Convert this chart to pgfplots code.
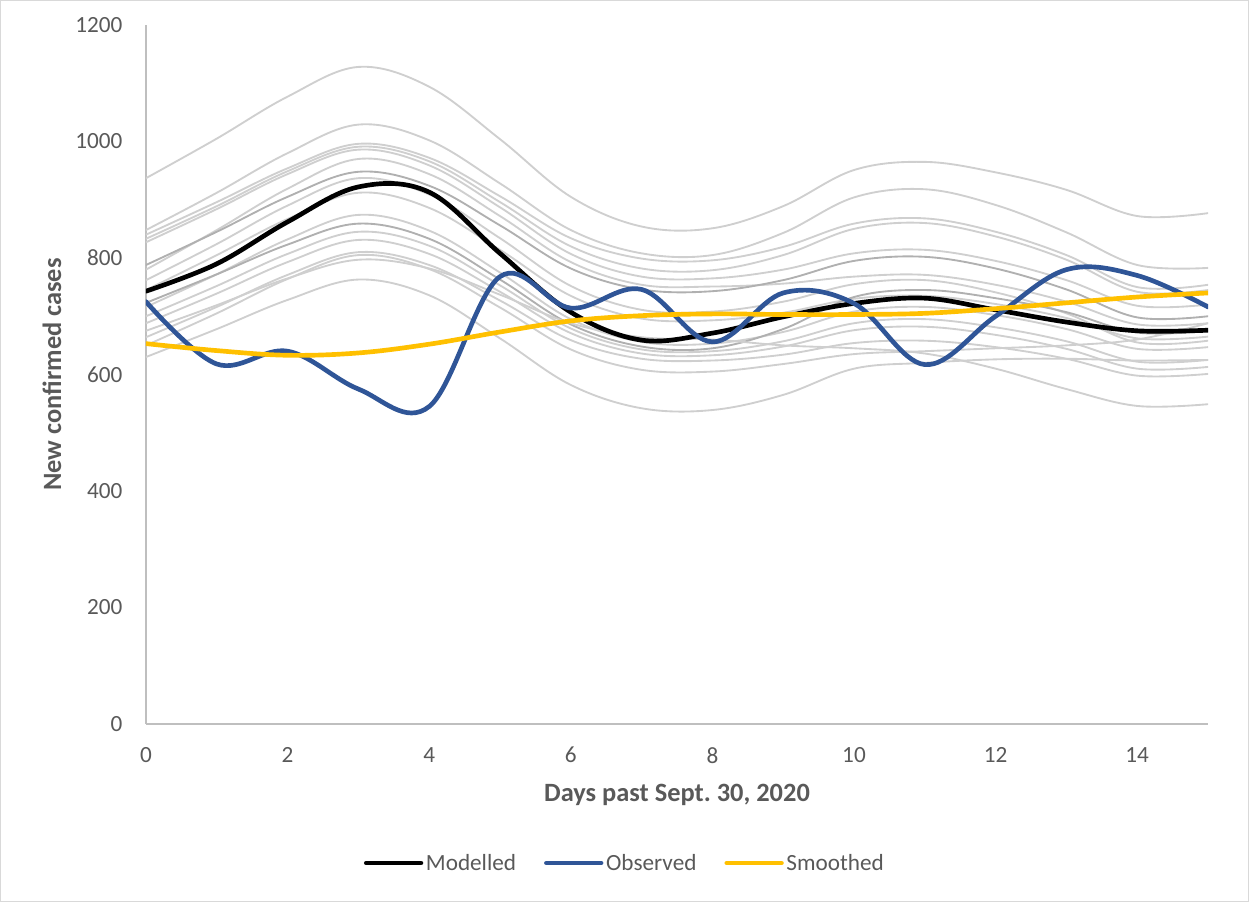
\documentclass[border=0pt]{standalone}
\usepackage{pgfplots}
\pgfplotsset{compat=1.18}
\usepackage{fontspec}
\setmainfont{Carlito}
\definecolor{txt}{HTML}{595959}
\definecolor{axgray}{HTML}{BFBFBF}
\definecolor{brd}{HTML}{D9D9D9}
\definecolor{ens}{HTML}{CFCFCF}
\definecolor{ensdark}{HTML}{B0B0B0}
\definecolor{obsblue}{HTML}{2F5597}
\definecolor{smyellow}{HTML}{FFC000}

\begin{document}
\begin{tikzpicture}
\begin{axis}[
  scale only axis, width=796.5pt, height=524.25pt,
  xmin=0, xmax=15, ymin=0, ymax=1200,
  xtick={0,2,...,14}, ytick={0,200,...,1200},
  axis x line*=bottom, axis y line*=left,
  axis line style={-, draw=axgray, line width=1pt},
  major tick length=0pt,
  tick style={draw=none},
  /pgf/number format/assume math mode=true,
  /pgf/number format/1000 sep={},
  ticklabel style={font=\fontsize{17.4}{20}\selectfont, text=txt, inner sep=0pt},
  xticklabel style={anchor=north, yshift=-17.25pt},
  yticklabel style={anchor=east, xshift=-17.5pt},
  xlabel={Days past Sept.\ 30, 2020},
  ylabel={New confirmed cases},
  label style={font=\fontsize{19.8}{23}\selectfont\bfseries, text=txt},
  xlabel style={at={(axis description cs:0.5,-0.1016)}, anchor=center},
  ylabel style={at={(axis description cs:-0.0885,0.5)}, anchor=center},
  legend columns=3,
  legend style={at={(0.4506,-0.1989)}, anchor=center, draw=none, fill=none,
    font=\fontsize{17.4}{20}\selectfont, text=txt, inner sep=0pt,
    nodes={inner sep=1pt},
    /tikz/every odd column/.append style={column sep=1pt},
    /tikz/every even column/.append style={column sep=20pt}},
  legend image code/.code={\draw[#1] (0pt,0pt) -- (41pt,0pt);},
  every axis plot/.append style={smooth, tension=0.6, line cap=round, line join=round},
]
% ensemble members
\addplot[ens, line width=1.4pt, forget plot] coordinates {(0,937) (1,1005) (2,1077) (3,1128) (4,1094) (5,1004) (6,905) (7,854) (8,851) (9,889) (10,951) (11,965) (12,947) (13,917) (14,872) (15,877)};
\addplot[ens, line width=1.4pt, forget plot] coordinates {(0,848) (1,912) (2,980) (3,1029) (4,1002) (5,928) (6,848) (7,808) (8,805) (9,843) (10,904) (11,918) (12,891) (13,844) (14,788) (15,783)};
\addplot[ens, line width=1.4pt, forget plot] coordinates {(0,840) (1,896) (2,954) (3,996) (4,972) (5,906) (6,834) (7,799) (8,796) (9,819) (10,859) (11,868) (12,845) (13,805) (14,750) (15,754)};
\addplot[ens, line width=1.4pt, forget plot] coordinates {(0,833) (1,889) (2,949) (3,991) (4,966) (5,896) (6,820) (7,782) (8,779) (9,805) (10,850) (11,860) (12,837) (13,797) (14,742) (15,745)};
\addplot[ens, line width=1.4pt, forget plot] coordinates {(0,827) (1,884) (2,944) (3,986) (4,959) (5,887) (6,807) (7,768) (8,765) (9,780) (10,808) (11,814) (12,795) (13,762) (14,718) (15,720)};
\addplot[ens, line width=1.4pt, forget plot] coordinates {(0,780) (1,848) (2,919) (3,970) (4,944) (5,872) (6,793) (7,754) (8,751) (9,756) (10,768) (11,771) (12,754) (13,725) (14,686) (15,688)};
\addplot[ensdark, line width=1.4pt, forget plot] coordinates {(0,788) (1,845) (2,905) (3,948) (4,924) (5,856) (6,782) (7,746) (8,743) (9,762) (10,795) (11,802) (12,782) (13,746) (14,698) (15,700)};
\addplot[ens, line width=1.4pt, forget plot] coordinates {(0,762) (1,824) (2,890) (3,937) (4,909) (5,834) (6,752) (7,711) (8,708) (9,725) (10,755) (11,762) (12,741) (13,705) (14,655) (15,658)};
\addplot[ens, line width=1.4pt, forget plot] coordinates {(0,745) (1,805) (2,867) (3,912) (4,886) (5,814) (6,735) (7,696) (8,693) (9,706) (10,730) (11,735) (12,721) (13,697) (14,662) (15,665)};
\addplot[ens, line width=1.4pt, forget plot] coordinates {(0,716) (1,772) (2,832) (3,874) (4,847) (5,775) (6,695) (7,656) (8,653) (9,673) (10,708) (11,716) (12,702) (13,678) (14,644) (15,647)};
\addplot[ensdark, line width=1.4pt, forget plot] coordinates {(0,723) (1,772) (2,823) (3,859) (4,833) (5,763) (6,686) (7,648) (8,645) (9,678) (10,733) (11,745) (12,731) (13,707) (14,672) (15,675)};
\addplot[ens, line width=1.4pt, forget plot] coordinates {(0,700) (1,752) (2,807) (3,845) (4,821) (5,753) (6,679) (7,643) (8,640) (9,657) (10,688) (11,695) (12,681) (13,657) (14,622) (15,625)};
\addplot[ens, line width=1.4pt, forget plot] coordinates {(0,688) (1,739) (2,793) (3,831) (4,807) (5,742) (6,671) (7,636) (8,633) (9,648) (10,676) (11,682) (12,668) (13,644) (14,610) (15,613)};
\addplot[ens, line width=1.4pt, forget plot] coordinates {(0,664) (1,716) (2,771) (3,810) (4,788) (5,727) (6,659) (7,627) (8,624) (9,634) (10,654) (11,658) (12,647) (13,627) (14,598) (15,601)};
\addplot[ens, line width=1.4pt, forget plot] coordinates {(0,650) (1,705) (2,764) (3,805) (4,781) (5,715) (6,643) (7,608) (8,605) (9,618) (10,635) (11,640) (12,645) (13,650) (14,660) (15,688)};
\addplot[ens, line width=1.4pt, forget plot] coordinates {(0,630) (1,678) (2,728) (3,763) (4,736) (5,662) (6,582) (7,542) (8,539) (9,565) (10,610) (11,620) (12,626) (13,627) (14,624) (15,625)};
\addplot[ens, line width=1.4pt, forget plot] coordinates {(0,675) (1,719) (2,765) (3,797) (4,782) (5,737) (6,688) (7,664) (8,660) (9,650) (10,645) (11,636) (12,610) (13,575) (14,546) (15,549)};
% main series
\addplot[black, line width=3.5pt] coordinates {(0,743) (1,790) (2,862) (3,922) (4,913) (5,808) (6,707) (7,659) (8,671) (9,699) (10,722) (11,731) (12,711) (13,690) (14,675) (15,676)};
\addplot[obsblue, line width=3.5pt] coordinates {(0,725) (1,618) (2,640) (3,575) (4,545) (5,768) (6,714) (7,746) (8,656) (9,740) (10,722) (11,617) (12,700) (13,780) (14,770) (15,716)};
\addplot[smyellow, line width=3.5pt] coordinates {(0,653) (1,641) (2,633) (3,637) (4,652) (5,673) (6,692) (7,701) (8,704) (9,703) (10,703) (11,705) (12,713) (13,723) (14,733) (15,740)};
\legend{Modelled, Observed, Smoothed}
\end{axis}
\draw[brd, line width=0.75pt] ([shift={(-109.125pt,-133.125pt)}]current axis.south west) rectangle ([shift={(826.875pt,542.625pt)}]current axis.south west);
\end{tikzpicture}
\end{document}
